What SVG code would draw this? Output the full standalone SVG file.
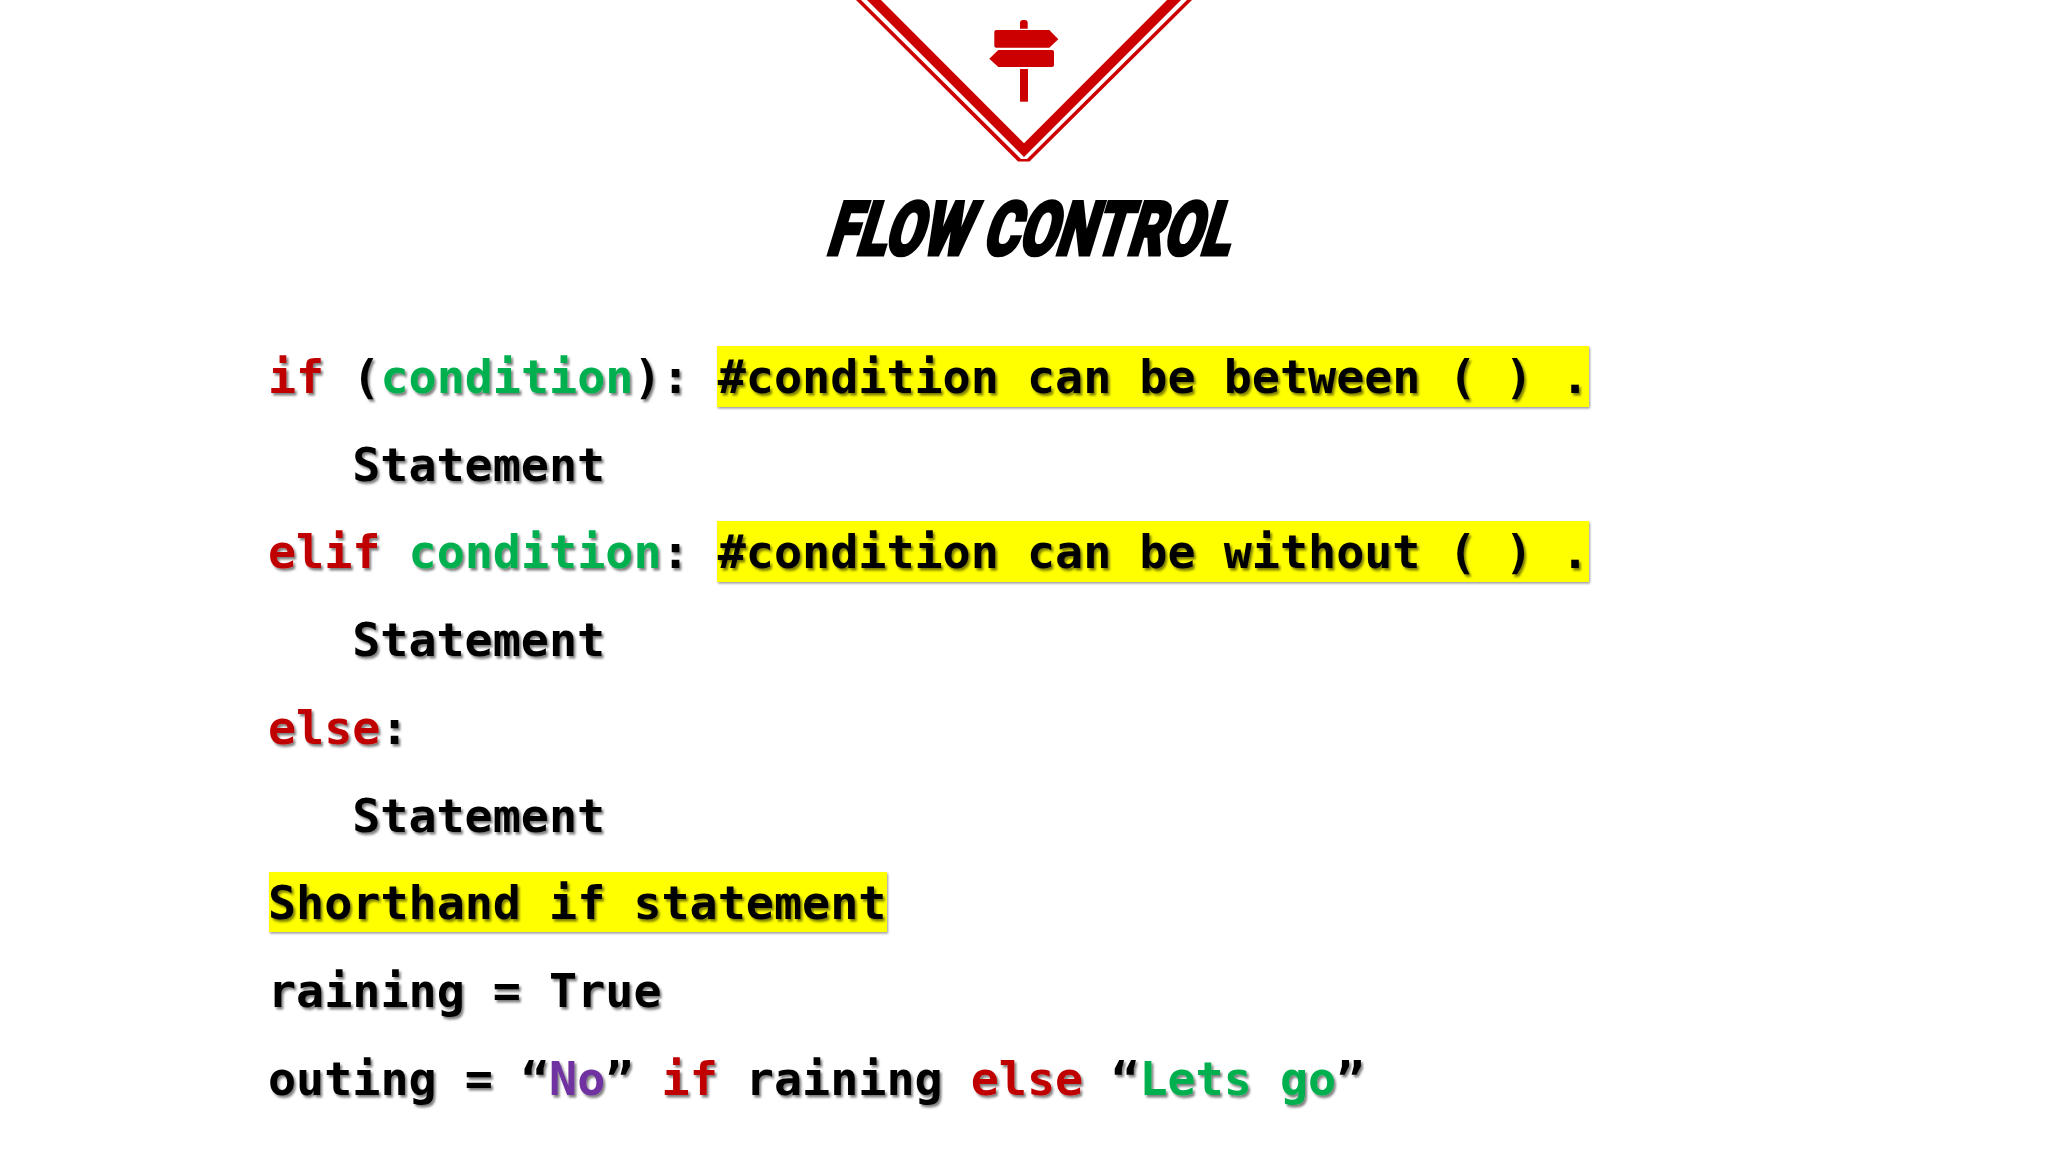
<svg xmlns="http://www.w3.org/2000/svg" width="2048" height="1152" viewBox="0 0 2048 1152">
<defs>
<filter id="ts" x="-5%" y="-30%" width="110%" height="170%"><feDropShadow dx="2" dy="2.5" stdDeviation="1.3" flood-color="#000" flood-opacity="0.5"/></filter>
<filter id="bs" x="-2%" y="-10%" width="104%" height="125%"><feDropShadow dx="1" dy="1.5" stdDeviation="1" flood-color="#000" flood-opacity="0.4"/></filter>
</defs>
<style>
.code{font-family:"DejaVu Sans Mono","Liberation Mono",monospace;font-weight:700;font-size:46.7px;fill:#000;white-space:pre}
.r{fill:#C00000}.g{fill:#00B050}.p{fill:#7030A0}
.hl{fill:#FFFF00;filter:url(#bs)}
.red{fill:#CC0000}
</style>
<rect width="2048" height="1152" fill="#fff"/>
<g id="chevron" class="red">
<path fill-rule="evenodd" d="M856 0L1018 161.5H1029.5L1192 0H1187L1027 159H1021L861 0Z"/>
<path d="M867 0L1024 157L1181 0H1167L1024 143.3L881 0Z"/>
</g>
<g id="signpost" class="red">
<path d="M1020 23a3 3 0 0 1 3-3h1.7a3 3 0 0 1 3 3v5.7h-7.7Z"/>
<path d="M996.3 30H1049.3L1058.3 39.3L1049.3 47.7H996.3a2 2 0 0 1-2-2V32a2 2 0 0 1 2-2Z"/>
<path d="M998.3 50H1052a2 2 0 0 1 2 2V65a2 2 0 0 1-2 2H998.3L989.3 58.7Z"/>
<rect x="1020" y="69" width="8" height="32.7"/>
</g>
<g id="title">
<text transform="translate(825 255.3) skewX(-17)" textLength="403" lengthAdjust="spacingAndGlyphs" font-family="Roboto,'Liberation Sans',sans-serif" font-weight="900" font-size="75" fill="#000" stroke="#000" stroke-width="3.2">FLOW CONTROL</text>
</g>
<g id="highlights">
<rect class="hl" x="717" y="346" width="872" height="61"/>
<rect class="hl" x="717" y="521" width="872" height="61"/>
<rect class="hl" x="269" y="872" width="618" height="60"/>
</g>
<g id="code" filter="url(#ts)">
<text class="code" x="268" y="393"><tspan class="r">if</tspan> (<tspan class="g">condition</tspan>): #condition can be between ( ) .</text>
<text class="code" x="352.2" y="481">Statement</text>
<text class="code" x="268" y="568.2"><tspan class="r">elif</tspan> <tspan class="g">condition</tspan>: #condition can be without ( ) .</text>
<text class="code" x="352.2" y="656.4">Statement</text>
<text class="code" x="268" y="744"><tspan class="r">else</tspan>:</text>
<text class="code" x="352.2" y="832">Statement</text>
<text class="code" x="268" y="919">Shorthand if statement</text>
<text class="code" x="268" y="1007">raining = True</text>
<text class="code" x="268" y="1095">outing = “<tspan class="p">No</tspan>” <tspan class="r">if</tspan> raining <tspan class="r">else</tspan> “<tspan class="g">Lets go</tspan>”</text>
</g>
</svg>
